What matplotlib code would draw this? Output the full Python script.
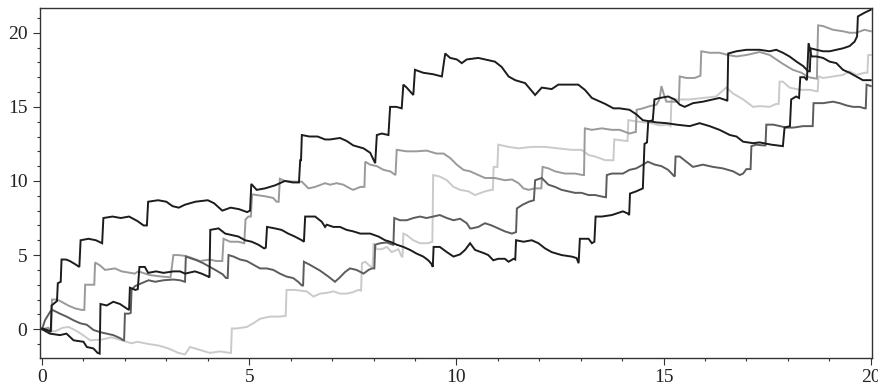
import matplotlib
matplotlib.use("Agg")
import matplotlib.pyplot as plt
from matplotlib.ticker import MultipleLocator

# sample paths (time, value)
black_a_t = [0.00, 0.15, 0.21, 0.23, 0.36, 0.38, 0.45, 0.47, 0.58, 0.67, 0.79, 0.90, 0.93, 1.12, 1.30,
             1.45, 1.48, 1.70, 1.90, 2.10, 2.30, 2.45, 2.53, 2.56, 2.80, 3.00, 3.15, 3.30, 3.45, 3.70,
             4.00, 4.15, 4.35, 4.55, 4.75, 4.95, 5.02, 5.05, 5.18, 5.38, 5.62, 5.86, 6.05, 6.20, 6.23,
             6.25, 6.27, 6.45, 6.65, 6.83, 6.95, 7.19, 7.35, 7.51, 7.76, 7.92, 8.04, 8.08, 8.20, 8.36,
             8.40, 8.55, 8.68, 8.72, 8.80, 8.96, 9.00, 9.20, 9.44, 9.65, 9.73, 9.85, 10.01, 10.13, 10.25,
             10.53, 10.69, 10.93, 11.09, 11.26, 11.42, 11.66, 11.78, 11.90, 12.06, 12.30, 12.46, 12.62,
             12.94, 13.10, 13.27, 13.43, 13.59, 13.79, 13.94, 14.18, 14.34, 14.50, 14.83, 15.07, 15.31,
             15.63, 15.87, 16.11, 16.35, 16.60, 16.76, 16.92, 17.16, 17.32, 17.60, 17.88, 17.92, 18.05,
             18.08, 18.20, 18.27, 18.30, 18.40, 18.46, 18.50, 18.57, 18.69, 18.85, 19.01, 19.17, 19.33,
             19.49, 19.65, 19.81, 20.00]
black_a_y = [0.05, -0.08, -0.18, 1.6, 1.9, 3.1, 3.2, 4.7, 4.7, 4.6, 4.4, 4.2, 6.0, 6.1, 6.0,
             5.8, 7.5, 7.6, 7.5, 7.6, 7.3, 7.0, 7.0, 8.6, 8.7, 8.6, 8.3, 8.2, 8.4, 8.6,
             8.7, 8.5, 8.0, 8.2, 8.1, 7.9, 8.0, 9.8, 9.4, 9.5, 9.7, 10.0, 9.9, 9.9, 11.4,
             11.4, 13.1, 13.0, 13.0, 12.8, 12.8, 12.9, 12.7, 12.4, 12.2, 11.9, 11.2, 13.1, 13.2, 13.1,
             15.0, 15.0, 14.9, 16.5, 16.3, 15.8, 17.5, 17.3, 17.2, 17.05, 18.6, 18.3, 18.2, 17.95, 18.2,
             18.3, 18.2, 18.05, 17.7, 17.05, 16.8, 16.6, 16.2, 15.8, 16.3, 16.2, 16.5, 16.5,
             16.5, 16.15, 15.6, 15.4, 15.2, 14.9, 14.9, 14.8, 14.5, 14.1, 13.95, 13.9, 13.8,
             13.7, 13.9, 13.7, 13.45, 13.1, 13.0, 12.65, 12.55, 12.6, 12.45, 12.35, 13.6, 13.7,
             15.5, 15.7, 15.6, 17.0, 17.0, 16.8, 19.3, 18.4, 18.4, 18.3, 18.05, 17.95, 17.5,
             17.3, 17.05, 16.8, 16.8]

black_b_t = [0.00, 0.19, 0.43, 0.59, 0.76, 1.00, 1.08, 1.24, 1.34, 1.39, 1.41, 1.56, 1.72, 1.88, 2.04,
             2.10, 2.12, 2.25, 2.31, 2.35, 2.48, 2.56, 2.75, 2.93, 3.17, 3.33, 3.45, 3.69, 3.85, 4.01,
             4.04, 4.06, 4.26, 4.42, 4.58, 4.74, 4.90, 5.06, 5.22, 5.36, 5.40, 5.43, 5.62, 5.78, 5.94,
             6.10, 6.27, 6.32, 6.35, 6.59, 6.75, 6.83, 6.87, 7.03, 7.19, 7.35, 7.51, 7.68, 7.92, 8.12,
             8.28, 8.40, 8.56, 8.72, 8.88, 9.04, 9.20, 9.32, 9.40, 9.43, 9.45, 9.60, 9.77, 9.93, 10.09,
             10.21, 10.33, 10.45, 10.69, 10.77, 10.89, 11.01, 11.17, 11.26, 11.38, 11.42, 11.44, 11.62,
             11.82, 11.98, 12.14, 12.30, 12.54, 12.78, 12.90, 12.95, 12.98, 13.19, 13.27, 13.33, 13.36,
             13.51, 13.75, 13.86, 14.02, 14.14, 14.17, 14.19, 14.34, 14.50, 14.54, 14.60, 14.63, 14.74,
             14.78, 14.91, 15.11, 15.27, 15.39, 15.51, 15.71, 15.95, 16.11, 16.35, 16.51, 16.54, 16.56,
             16.76, 17.00, 17.32, 17.56, 17.72, 17.88, 18.04, 18.21, 18.37, 18.49, 18.53, 18.55, 18.69,
             18.85, 19.01, 19.17, 19.33, 19.49, 19.61, 19.67, 19.69, 19.85, 20.00]
black_b_y = [0.0, -0.3, -0.4, -0.3, -0.75, -0.85, -1.2, -1.3, -1.6, -1.65, 1.7, 1.6, 1.85, 1.7, 1.4,
             1.3, 2.8, 2.65, 2.7, 4.2, 4.2, 3.8, 3.9, 3.8, 3.9, 3.9, 3.75, 3.9, 3.75, 3.55,
             3.5, 6.7, 6.8, 6.45, 6.35, 6.25, 6.0, 5.9, 5.7, 5.45, 5.5, 6.9, 6.8, 6.7, 6.45,
             6.25, 6.0, 5.9, 7.6, 7.6, 7.25, 6.9, 7.05, 6.9, 6.9, 6.7, 6.6, 6.45, 6.45, 6.25,
             6.0, 5.9, 5.7, 5.55, 5.35, 5.1, 4.9, 4.65, 4.4, 4.2, 5.55, 5.55, 5.2, 4.9, 5.05,
             5.35, 5.8, 5.35, 5.1, 5.0, 4.65, 4.75, 4.75, 4.55, 4.75, 4.7, 6.0, 5.9,
             6.0, 5.8, 5.45, 5.2, 5.0, 4.9, 4.8, 4.45, 6.1, 6.1, 5.8, 5.9, 7.6,
             7.6, 7.7, 7.8, 7.95, 7.8, 7.7, 9.15, 9.3, 9.5, 12.5, 12.6, 14.0, 14.1,
             15.5, 15.6, 15.7, 15.5, 15.15, 15.0, 15.25, 15.35, 15.45, 15.6, 15.45, 15.4, 18.6,
             18.75, 18.85, 18.85, 18.75, 18.85, 18.65, 18.4, 18.05, 17.75, 17.4, 17.4, 18.95, 18.85,
             18.75, 18.75, 18.85, 18.95, 19.1, 19.4, 19.75, 21.1, 21.35, 21.55]

dark_t = [0.00, 0.07, 0.20, 0.25, 0.43, 0.59, 0.76, 0.92, 1.08, 1.24, 1.40, 1.56, 1.72, 1.88, 1.96,
          1.98, 2.00, 2.10, 2.14, 2.16, 2.24, 2.40, 2.57, 2.73, 2.93, 3.17, 3.33, 3.45, 3.47, 3.57,
          3.73, 3.89, 4.05, 4.21, 4.36, 4.44, 4.48, 4.50, 4.62, 4.78, 4.94, 5.10, 5.26, 5.42, 5.58,
          5.74, 5.90, 6.06, 6.18, 6.27, 6.30, 6.32, 6.46, 6.71, 6.91, 7.07, 7.19, 7.31, 7.43, 7.59,
          7.76, 7.88, 7.96, 8.02, 8.04, 8.16, 8.32, 8.46, 8.48, 8.50, 8.64, 8.80, 8.96, 9.12, 9.28,
          9.44, 9.60, 9.77, 9.93, 10.09, 10.25, 10.33, 10.37, 10.53, 10.69, 10.85, 11.01, 11.17,
          11.34, 11.44, 11.46, 11.60, 11.75, 11.87, 11.90, 12.06, 12.22, 12.38, 12.54, 12.70, 12.86,
          13.02, 13.19, 13.35, 13.51, 13.61, 13.63, 13.75, 13.83, 14.02, 14.18, 14.34, 14.50, 14.62,
          14.79, 14.95, 15.11, 15.23, 15.27, 15.29, 15.39, 15.55, 15.71, 15.95, 16.19, 16.43, 16.68,
          16.84, 16.92, 17.00, 17.10, 17.12, 17.24, 17.40, 17.46, 17.48, 17.65, 17.81, 17.97, 18.13,
          18.37, 18.57, 18.60, 18.62, 18.85, 19.09, 19.25, 19.41, 19.57, 19.73, 19.85, 19.88, 19.90,
          20.00]
dark_y = [0.0, 0.6, 1.2, 1.3, 1.05, 0.85, 0.6, 0.4, 0.3, -0.05, -0.2, -0.3, -0.4, -0.6, -0.75,
          -0.75, 1.05, 1.05, 1.1, 2.65, 2.9, 3.1, 3.3, 3.2, 3.3, 3.35, 3.3, 3.2, 4.9, 4.8,
          4.65, 4.45, 4.2, 3.95, 3.7, 3.45, 3.45, 5.0, 4.9, 4.7, 4.6, 4.35, 4.1, 4.1, 4.0,
          3.75, 3.55, 3.45, 3.2, 2.95, 2.95, 4.55, 4.35, 3.95, 3.55, 3.2, 3.5, 3.85, 4.1, 4.0,
          3.75, 4.0, 4.1, 4.1, 5.7, 5.8, 5.85, 5.7, 5.7, 7.5, 7.35, 7.35, 7.5, 7.6, 7.5,
          7.6, 7.7, 7.5, 7.35, 7.45, 7.15, 6.8, 6.8, 6.9, 7.15, 7.0, 6.8, 6.6,
          6.45, 6.55, 8.15, 8.4, 8.6, 8.7, 10.05, 10.2, 9.75, 9.6, 9.4, 9.3, 9.2,
          9.2, 9.05, 9.05, 8.95, 8.9, 10.4, 10.5, 10.5, 10.5, 10.75, 10.85, 11.1, 11.3,
          11.1, 11.0, 10.75, 10.4, 10.3, 11.65, 11.65, 11.3, 10.95, 11.1, 10.95, 10.85, 10.65,
          10.4, 10.5, 10.8, 10.8, 12.35, 12.45, 12.4, 12.4, 13.8, 13.8, 13.7, 13.6, 13.6,
          13.7, 13.7, 13.7, 15.25, 15.25, 15.35, 15.25, 15.1, 15.0, 15.0, 14.9, 14.9, 16.5,
          16.4]

mid_t = [0.00, 0.15, 0.22, 0.24, 0.36, 0.47, 0.63, 0.80, 0.96, 1.02, 1.04, 1.16, 1.26, 1.28, 1.40,
         1.52, 1.76, 1.92, 2.24, 2.32, 2.60, 2.89, 3.10, 3.17, 3.29, 3.45, 3.57, 3.81, 4.05, 4.20,
         4.35, 4.38, 4.54, 4.74, 4.88, 4.91, 4.98, 5.04, 5.07, 5.18, 5.42, 5.58, 5.66, 5.71, 5.74,
         5.86, 6.12, 6.27, 6.43, 6.59, 6.83, 6.95, 7.11, 7.27, 7.43, 7.51, 7.68, 7.78, 7.80, 7.92,
         8.08, 8.24, 8.40, 8.53, 8.56, 8.80, 9.04, 9.28, 9.52, 9.69, 9.85, 10.01, 10.17, 10.33,
         10.45, 10.69, 10.93, 11.17, 11.34, 11.50, 11.62, 11.74, 11.90, 12.05, 12.08, 12.22, 12.38,
         12.62, 12.86, 13.05, 13.08, 13.10, 13.27, 13.51, 13.75, 13.94, 14.18, 14.31, 14.33, 14.35,
         14.50, 14.67, 14.83, 14.90, 14.95, 15.00, 15.07, 15.20, 15.37, 15.39, 15.55, 15.75, 15.89,
         15.91, 16.11, 16.35, 16.55, 16.76, 17.00, 17.24, 17.32, 17.56, 17.72, 17.88, 18.12, 18.33,
         18.50, 18.70, 18.73, 18.85, 19.09, 19.33, 19.49, 19.65, 19.85, 20.00]
mid_y = [0.0, 0.1, -0.1, 2.0, 2.0, 1.85, 1.6, 1.4, 1.3, 1.3, 3.0, 3.0, 3.0, 4.5, 4.3,
         4.0, 4.1, 3.9, 3.75, 3.9, 3.65, 3.55, 3.5, 5.0, 5.0, 4.95, 4.85, 4.6, 4.7, 4.6,
         4.6, 6.1, 5.9, 5.9, 5.8, 7.4, 7.6, 7.6, 9.1, 9.05, 8.95, 8.85, 8.6, 8.6, 10.15,
         10.0, 9.95, 9.95, 9.5, 9.6, 9.85, 9.75, 9.85, 9.75, 9.5, 9.4, 9.6, 9.6, 11.3, 11.1,
         11.0, 10.75, 10.65, 10.4, 12.1, 12.0, 12.0, 12.05, 11.85, 11.85, 11.55, 11.1, 10.75, 10.65,
         10.5, 10.2, 10.2, 10.05, 10.1, 9.85, 9.5, 9.4, 9.5, 9.5, 10.95, 10.85, 10.65,
         10.5, 10.5, 10.4, 10.4, 13.55, 13.45, 13.55, 13.45, 13.45, 13.2, 13.3, 13.3, 14.8,
         14.9, 15.05, 15.15, 15.5, 16.4, 15.9, 15.35, 15.35, 15.35, 17.05, 16.95, 16.95, 17.1,
         18.75, 18.65, 18.65, 18.5, 18.4, 18.5, 18.65, 18.7, 18.5, 18.2, 17.9, 17.5, 17.3,
         17.0, 16.9, 20.5, 20.45, 20.2, 20.1, 20.0, 20.0, 20.2, 20.1]

light_t = [0.00, 0.15, 0.31, 0.50, 0.64, 0.75, 0.88, 1.04, 1.16, 1.44, 1.68, 1.92, 2.16, 2.30, 2.57,
           2.81, 3.05, 3.29, 3.45, 3.57, 3.81, 4.05, 4.29, 4.54, 4.56, 4.58, 4.70, 4.94, 5.10, 5.26,
           5.50, 5.74, 5.88, 5.90, 6.10, 6.39, 6.55, 6.71, 6.87, 7.03, 7.19, 7.35, 7.51, 7.63, 7.70,
           7.72, 7.80, 7.92, 7.98, 8.00, 8.08, 8.20, 8.32, 8.44, 8.60, 8.68, 8.70, 8.72, 8.80, 8.96,
           9.12, 9.32, 9.42, 9.44, 9.60, 9.77, 9.93, 10.09, 10.29, 10.45, 10.69, 10.85, 10.88, 10.90,
           10.99, 11.01, 11.26, 11.50, 11.82, 12.14, 12.46, 12.78, 13.02, 13.19, 13.35, 13.59, 13.79,
           13.81, 13.95, 14.10, 14.13, 14.15, 14.40, 14.70, 14.90, 15.10, 15.17, 15.19, 15.31, 15.63,
           15.95, 16.27, 16.47, 16.51, 16.68, 16.92, 17.16, 17.32, 17.56, 17.72, 17.78, 17.80, 17.88,
           18.04, 18.29, 18.53, 18.69, 18.72, 18.74, 18.85, 19.09, 19.33, 19.49, 19.65, 19.85, 19.92,
           19.94, 20.00]
light_y = [0.0, -0.1, -0.15, 0.1, 0.15, 0.0, -0.2, -0.5, -0.75, -0.7, -0.55, -0.75, -0.95, -0.85, -1.0,
           -1.1, -1.3, -1.6, -1.7, -1.2, -1.4, -1.6, -1.5, -1.6, -1.6, 0.05, 0.05, 0.15, 0.4, 0.7,
           0.85, 0.85, 0.9, 2.65, 2.65, 2.55, 2.2, 2.4, 2.45, 2.55, 2.4, 2.4, 2.5, 2.65, 2.6,
           4.45, 4.55, 4.25, 4.2, 5.8, 5.4, 5.4, 5.55, 5.2, 5.4, 4.9, 4.9, 6.45, 6.35, 6.0,
           5.8, 5.8, 5.9, 10.4, 10.3, 10.05, 9.6, 9.4, 9.3, 9.05, 9.3, 9.4, 9.4, 10.95,
           10.95, 12.45, 12.3, 12.2, 12.3, 12.3, 12.2, 12.1, 12.1, 11.75, 11.65, 11.4, 11.4,
           12.8, 12.75, 12.7, 12.7, 14.1, 14.0, 13.9, 13.75, 13.8, 13.7, 15.5, 15.5, 15.5,
           15.6, 15.7, 16.2, 16.3, 15.9, 15.5, 15.0, 15.05, 15.0, 15.2, 15.2, 16.7, 16.7,
           16.3, 16.15, 16.15, 16.05, 16.05, 17.05, 16.95, 17.05, 17.15, 17.4, 17.15, 17.3, 17.3,
           18.5, 18.5]

paths = [
    (light_t, light_y, "#cacaca"),
    (mid_t, mid_y, "#9a9a9a"),
    (dark_t, dark_y, "#5c5c5c"),
    (black_b_t, black_b_y, "#1c1c1c"),
    (black_a_t, black_a_y, "#1c1c1c"),
]

plt.rcParams["font.family"] = ["Liberation Serif", "DejaVu Serif"]

fig = plt.figure(figsize=(8.79, 3.88), dpi=100)
ax = fig.add_axes([0.0455, 0.0786, 0.9465, 0.9008])

for t, y, col in paths:
    ax.plot(t, y, color=col, lw=1.4, solid_joinstyle="miter")

ax.set_xlim(-0.05, 20.03)
ax.set_ylim(-1.91, 21.67)
ax.xaxis.set_major_locator(MultipleLocator(5))
ax.xaxis.set_minor_locator(MultipleLocator(1))
ax.yaxis.set_major_locator(MultipleLocator(5))
ax.yaxis.set_minor_locator(MultipleLocator(1))
ax.tick_params(which="major", direction="out", length=5, width=0.8, colors="#333333",
               labelsize=14, labelcolor="#222222", pad=3)
ax.tick_params(which="minor", direction="out", length=2.5, width=0.8, colors="#333333")
ax.tick_params(axis="y", pad=4)
for s in ax.spines.values():
    s.set_linewidth(1.0)
    s.set_color("#333333")

fig.savefig("out.png", dpi=100)
